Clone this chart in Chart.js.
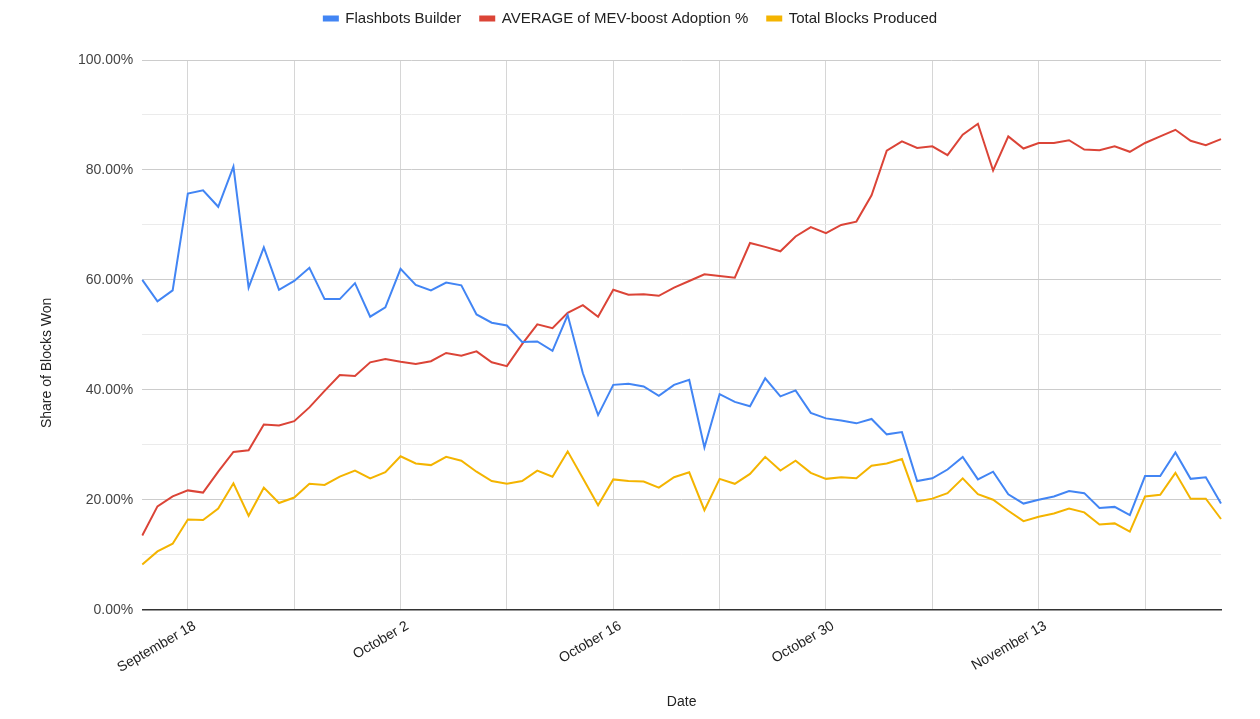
<!DOCTYPE html>
<html>
<head>
<meta charset="utf-8">
<script src="https://cdn.jsdelivr.net/npm/chart.js@4"></script>
<style>
  html, body { margin: 0; padding: 0; background: #fff; }
  #wrap { width: 1260px; height: 719px; }
</style>
</head>
<body>
<div id="wrap"><canvas id="mev-chart"></canvas></div>
<script>
// Daily values, September 15 to November 25
const monthNames = ["January", "February", "March", "April", "May", "June", "July",
    "August", "September", "October", "November", "December"];
const firstDay = new Date(2022, 8, 15);
const dayCount = 72;

const flashbotsBuilder = [
    60.0, 56.1, 58.1, 75.7, 76.3, 73.3, 80.6, 58.6, 65.9, 58.2, 59.8, 62.2, 56.5, 56.5,
    59.4, 53.3, 55.0, 62.0, 59.1, 58.1, 59.5, 59.0, 53.7, 52.2, 51.7, 48.7, 48.8, 47.1,
    53.6, 43.0, 35.4, 40.9, 41.1, 40.6, 38.9, 40.9, 41.8, 29.5, 39.2, 37.8, 37.0, 42.1,
    38.8, 39.9, 35.8, 34.8, 34.4, 33.9, 34.7, 31.9, 32.3, 23.4, 23.9, 25.5, 27.8, 23.7,
    25.1, 21.0, 19.3, 20.0, 20.6, 21.6, 21.2, 18.5, 18.7, 17.2, 24.3, 24.3, 28.6, 23.8,
    24.1, 19.3
];

const mevBoostAdoption = [
    13.5, 18.8, 20.6, 21.7, 21.3, 25.1, 28.7, 29.0, 33.7, 33.5, 34.3, 36.8, 39.8, 42.7,
    42.5, 45.0, 45.6, 45.1, 44.7, 45.2, 46.7, 46.2, 47.0, 45.0, 44.3, 48.3, 51.9, 51.2,
    54.0, 55.4, 53.3, 58.2, 57.3, 57.4, 57.1, 58.6, 59.8, 61.0, 60.7, 60.4, 66.7, 66.0,
    65.2, 67.9, 69.6, 68.5, 70.0, 70.6, 75.4, 83.5, 85.2, 84.0, 84.3, 82.7, 86.4, 88.4,
    79.9, 86.1, 83.9, 84.9, 84.9, 85.4, 83.7, 83.6, 84.3, 83.3, 84.9, 86.1, 87.3, 85.3,
    84.5, 85.6
];

const totalBlocksProduced = [
    8.2, 10.6, 12.0, 16.4, 16.3, 18.4, 23.0, 17.1, 22.2, 19.4, 20.4, 22.9, 22.7, 24.2,
    25.3, 23.9, 25.0, 27.9, 26.6, 26.3, 27.8, 27.1, 25.1, 23.4, 22.9, 23.4, 25.3, 24.2,
    28.8, 23.9, 19.0, 23.7, 23.4, 23.3, 22.2, 24.1, 25.0, 18.1, 23.8, 22.9, 24.7, 27.8,
    25.3, 27.1, 24.9, 23.8, 24.1, 23.9, 26.2, 26.6, 27.4, 19.7, 20.2, 21.2, 23.9, 21.0,
    20.0, 18.0, 16.1, 16.9, 17.5, 18.4, 17.7, 15.5, 15.7, 14.2, 20.6, 20.9, 24.9, 20.2,
    20.2, 16.5
];

const yAxisTitle = "Share of Blocks Won";

let dateLabels = [];
for (let i = 0; i < dayCount; i++) {
    const d = new Date(firstDay);
    d.setDate(firstDay.getDate() + i);
    dateLabels.push(monthNames[d.getMonth()] + " " + d.getDate());
}

const fontFamily = "'Liberation Sans', Arial, sans-serif";

// push the plot down below the legend, like the original
const legendGap = {
    id: "legendGap",
    beforeInit(chart) {
        const fit = chart.legend.fit;
        chart.legend.fit = function () {
            fit.bind(chart.legend)();
            this.height += 24;
        };
    }
};

// y title sits a bit below the middle of the axis in the original
const yTitle = {
    id: "yTitle",
    afterDraw(chart) {
        const ctx = chart.ctx;
        const area = chart.chartArea;
        ctx.save();
        ctx.translate(47, (area.top + area.bottom) / 2 + 28);
        ctx.rotate(-Math.PI / 2);
        ctx.font = "14px " + fontFamily;
        ctx.fillStyle = "#222";
        ctx.textAlign = "center";
        ctx.textBaseline = "middle";
        ctx.fillText(yAxisTitle, 0, 0);
        ctx.restore();
    }
};

const chartData = {
    labels: dateLabels,
    datasets: [
        {
            label: "Flashbots Builder",
            data: flashbotsBuilder,
            borderColor: "#4285f4",
            backgroundColor: "#4285f4"
        },
        {
            label: "AVERAGE of MEV-boost Adoption %",
            data: mevBoostAdoption,
            borderColor: "#db4437",
            backgroundColor: "#db4437"
        },
        {
            label: "Total Blocks Produced",
            data: totalBlocksProduced,
            borderColor: "#f4b400",
            backgroundColor: "#f4b400"
        }
    ]
};

const chartOptions = {
    responsive: true,
    maintainAspectRatio: false,
    animation: false,
    layout: {
        padding: { top: -8, left: 40, right: 39, bottom: 8 }
    },
    elements: {
        line: { borderWidth: 2, tension: 0 },
        point: { radius: 0 }
    },
    plugins: {
        legend: {
            position: "top",
            labels: {
                boxWidth: 14,
                boxHeight: 4,
                padding: 19,
                color: "#222",
                font: { family: fontFamily, size: 15 }
            }
        },
        tooltip: { enabled: false }
    },
    scales: {
        x: {
            offset: false,
            grid: {
                drawTicks: false,
                color: ctx => (ctx.index % 7 === 3 ? "#d6d6d6" : "rgba(0,0,0,0)")
            },
            border: { color: "#333", width: 1.5 },
            ticks: {
                autoSkip: false,
                minRotation: 30,
                maxRotation: 30,
                padding: 8,
                labelOffset: 7,
                color: "#222",
                font: { family: fontFamily, size: 14 },
                callback: (value, index) => (index % 14 === 3 ? dateLabels[index] : "")
            },
            title: {
                display: true,
                text: "Date",
                color: "#222",
                font: { family: fontFamily, size: 14 },
                padding: { top: 10, bottom: 0 }
            }
        },
        y: {
            min: 0,
            max: 100,
            // room for the title drawn by the yTitle plugin
            afterFit: scale => {
                scale.width += 29;
            },
            grid: {
                drawTicks: false,
                color: ctx => (ctx.tick.value % 20 === 0 ? "#cccccc" : "#ebebeb")
            },
            border: { display: false },
            ticks: {
                stepSize: 10,
                padding: 9,
                color: "#444",
                font: { family: fontFamily, size: 14 },
                callback: value => (value % 20 === 0 ? value.toFixed(2) + "%" : "")
            },
            title: { display: false }
        }
    }
};

new Chart("mev-chart", {
    type: "line",
    data: chartData,
    options: chartOptions,
    plugins: [legendGap, yTitle]
});
</script>
</body>
</html>
